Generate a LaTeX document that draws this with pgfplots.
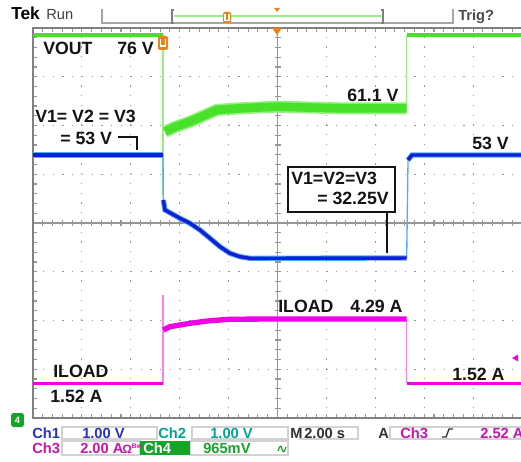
\documentclass[border=0pt]{standalone}
\usepackage{pgfplots}
\pgfplotsset{compat=1.18}
\usepackage{fontspec}
\setmainfont{Liberation Sans}
\definecolor{tgreen}{RGB}{70,225,40}
\definecolor{tgreenl}{RGB}{150,240,130}
\definecolor{tblue}{RGB}{20,30,210}
\definecolor{tcyan}{RGB}{80,170,255}
\definecolor{tmag}{RGB}{240,0,230}
\definecolor{tmagl}{RGB}{250,130,245}
\definecolor{gridg}{RGB}{150,150,150}
\definecolor{tekorange}{RGB}{235,130,30}
\definecolor{ch1c}{RGB}{40,50,190}
\definecolor{ch2c}{RGB}{0,165,150}
\definecolor{ch3c}{RGB}{200,20,170}
\definecolor{ch4c}{RGB}{20,165,40}
\definecolor{txt}{RGB}{20,20,20}
\newcommand{\lab}{\fontsize{13.3}{15}\selectfont\bfseries}
\newcommand{\st}{\fontsize{11}{12}\selectfont\bfseries}
\begin{document}
\begin{tikzpicture}[x=0.75pt,y=0.75pt]
\useasboundingbox (0,0) rectangle (521,461);
\fill[white] (0,0) rectangle (521,461);
% crosshair and border ticks (under the traces)
\draw[gridg, line width=0.9pt] (277.5,43) -- (277.5,433);
\draw[gridg, line width=0.9pt] (33,238) -- (522,238);
\foreach \i in {0,...,50} {
  \draw[gridg, line width=0.8pt] ({33+\i*9.78},235) -- ++(0,6);
  \draw[gridg, line width=0.8pt] ({33+\i*9.78},433) -- ++(0,-4);
  \draw[gridg, line width=0.8pt] ({33+\i*9.78},43) -- ++(0,4);
}
\foreach \j in {0,...,40} {
  \draw[gridg, line width=0.8pt] (274.5,{433-\j*9.75}) -- ++(6,0);
  \draw[gridg, line width=0.8pt] (33,{433-\j*9.75}) -- ++(4,0);
}
\begin{axis}[at={(24.75pt,32.25pt)}, anchor=south west,
  width=366.75pt, height=292.5pt, scale only axis,
  xmin=0, xmax=10, ymin=0, ymax=8,
  xtick={1,...,9}, ytick={1,...,7},
  xticklabels={}, yticklabels={},
  major tick length=0pt,
  grid=major,
  x grid style={gridg, line width=0.9pt, dash pattern=on 0.9pt off 6.41pt},
  y grid style={gridg, line width=0.9pt, dash pattern=on 0.9pt off 6.435pt},
  axis line style={draw=gray, line width=1.5pt},
  clip=true]
% VOUT (green)
\addplot[tgreenl, line width=1pt] coordinates {(2.658,7.856) (2.658,4.574)};
\addplot[tgreenl, line width=1pt] coordinates {(7.642,6.353) (7.642,7.856)};
\addplot[tgreen, line width=3pt] coordinates {(0,7.856) (2.658,7.856)};
\addplot[tgreen, line width=3pt] coordinates {(7.642,7.856) (10,7.856)};
\addplot[tgreenl, line width=9pt] coordinates {(2.699,5.873) (2.904,5.969) (3.211,6.078) (3.476,6.195) (3.757,6.318) (4.233,6.353) (4.984,6.386) (6.278,6.353) (7.642,6.353)};
\addplot[tgreen, line width=6.5pt] coordinates {(2.699,5.873) (2.904,5.969) (3.211,6.078) (3.476,6.195) (3.757,6.318) (4.233,6.353) (4.984,6.386) (6.278,6.353) (7.642,6.353)};
% V1=V2=V3 (blue)
\addplot[tcyan, line width=1pt] coordinates {(2.658,5.395) (2.665,4.472)};
\addplot[tcyan, line width=1pt] coordinates {(7.642,3.282) (7.669,5.292)};
\addplot[tcyan, line width=4pt] coordinates {(0,5.395) (2.658,5.395)};
\addplot[tcyan, line width=4pt] coordinates {(2.665,4.472) (2.699,4.267) (3.006,4.096) (3.211,3.994) (3.415,3.856) (3.620,3.686) (3.824,3.514) (4.029,3.378) (4.233,3.309) (4.438,3.276) (7.642,3.282)};
\addplot[tcyan, line width=4pt] coordinates {(7.669,5.292) (7.751,5.395) (10,5.395)};
\addplot[tblue, line width=2.6pt] coordinates {(0,5.395) (2.658,5.395)};
\addplot[tblue, line width=2.6pt] coordinates {(2.665,4.472) (2.699,4.267) (3.006,4.096) (3.211,3.994) (3.415,3.856) (3.620,3.686) (3.824,3.514) (4.029,3.378) (4.233,3.309) (4.438,3.276) (7.642,3.282)};
\addplot[tblue, line width=2.6pt] coordinates {(7.669,5.292) (7.751,5.395) (10,5.395)};
% ILOAD (magenta)
\addplot[tmagl, line width=1pt] coordinates {(2.658,0.712) (2.658,2.523)};
\addplot[tmagl, line width=1pt] coordinates {(7.642,2.031) (7.642,0.712)};
\addplot[tmag, line width=2.6pt] coordinates {(0,0.712) (2.658,0.712)};
\addplot[tmag, line width=4pt] coordinates {(2.665,1.805) (2.801,1.873) (3.211,1.943) (3.620,1.996) (4.029,2.025) (4.847,2.031) (7.642,2.031)};
\addplot[tmag, line width=2.6pt] coordinates {(7.642,0.712) (10,0.712)};
\end{axis}
% markers
\fill[tekorange] (272,433) -- (282,433) -- (277,426) -- cycle;
\fill[tekorange, rounded corners=1.5pt] (158,425) rectangle (168,411);
\draw[white, line width=1pt] (160.5,422) -- (160.5,415) -- (165.5,415) -- (165.5,422);
\fill[tmag] (512,103) -- (518,99.5) -- (518,106.5) -- cycle;
\fill[ch4c, rounded corners=2pt] (11,34) rectangle (24,48);
\node[white, inner sep=0, font=\fontsize{7}{8}\selectfont\bfseries] at (17.5,41) {4};
% labels
\begin{scope}[every node/.style={inner sep=0, anchor=base west, text=txt, font=\lab}]
\node at (43,406) {VOUT};
\node at (117,406) {76 V};
\node at (35,338) {V1= V2 = V3};
\node at (60,316) {= 53 V};
\node at (347,359) {61.1 V};
\node at (472,311) {53 V};
\node at (278,149) {ILOAD};
\node at (350,149) {4.29 A};
\node at (53,84) {ILOAD};
\node at (50,59) {1.52 A};
\node at (452,81) {1.52 A};
\end{scope}
\draw[txt, line width=1.3pt] (118,324) -- (137,324) -- (137,311);
\draw[txt, line width=1.5pt, fill=white] (288,294) rectangle (395,249);
\draw[txt, line width=1.3pt] (386.7,249) -- (386.7,208);
\node[inner sep=0, anchor=base west, text=txt, font=\lab] at (291,276) {V1=V2=V3};
\node[inner sep=0, anchor=base east, text=txt, font=\lab] at (389,256) {= 32.25V};
% top bar
\node[inner sep=0, anchor=base west, font=\fontsize{13}{14}\selectfont\bfseries] at (11,441) {Tek};
\node[inner sep=0, anchor=base west, text=black!75, font=\fontsize{11}{12}\selectfont] at (46,441) {Run};
\draw[gray!70, line width=0.9pt] (102,452) -- (102,438) -- (453,438) -- (453,452);
\draw[gray, line width=0.9pt] (174,451) -- (172,451) -- (172,438) -- (174,438);
\draw[gray, line width=0.9pt] (381,451) -- (383,451) -- (383,438) -- (381,438);
\draw[tgreenl, line width=1.2pt] (174,445) -- (381,445);
\fill[tekorange, rounded corners=1.5pt] (223,449) rectangle (231,438);
\draw[white, line width=0.8pt] (225,447) -- (225,440.5) -- (229,440.5) -- (229,447);
\fill[tekorange] (274,453) -- (280,453) -- (277,449) -- cycle;
\node[inner sep=0, anchor=base west, text=black!70, font=\fontsize{11}{12}\selectfont\bfseries] at (458,440) {Trig?};
% status bar
\begin{scope}[gray!35, line width=0.8pt]
\draw (62,34) rectangle (157,22);
\draw (192,34) rectangle (288,22);
\draw (300,34) rectangle (358,22);
\draw (390,34) rectangle (523,22);
\draw (62,20) rectangle (140,6);
\draw (190,20) rectangle (288,6);
\end{scope}
\fill[ch4c] (140,20) rectangle (190,6);
\begin{scope}[every node/.style={inner sep=0, anchor=base west, font=\st}]
\node[text=ch1c] at (32,23) {Ch1};
\node[text=ch1c] at (82,23) {1.00 V};
\node[text=ch2c] at (158,23) {Ch2};
\node[text=ch2c] at (210,23) {1.00 V};
\node[text=black!80] at (290,23) {M};
\node[text=black!80] at (304,23) {2.00 s};
\node[text=black!80] at (378,23) {A};
\node[text=ch3c] at (400,23) {Ch3};
\node[text=ch3c] at (480,23) {2.52 A};
\node[text=ch3c] at (32,8) {Ch3};
\node[text=ch3c] at (80,8) {2.00 A};
\node[text=white] at (143,8) {Ch4};
\node[text=ch4c] at (203,8) {965mV};
\end{scope}
\node[inner sep=0, anchor=base west, text=ch3c, font=\fontsize{9}{10}\selectfont\bfseries] at (122,8) {Ω};
\node[inner sep=0, anchor=base west, text=ch3c, font=\fontsize{5}{6}\selectfont\bfseries] at (131.5,13) {Bw};
\draw[black!80, line width=1pt] (442,24) -- (446,24) -- (449,32) -- (453,32);
\draw[ch4c, line width=0.9pt] (278,10) .. controls (280,16) and (281,16) .. (282,12) .. controls (283,8) and (284,8) .. (286,14);
\end{tikzpicture}
\end{document}
